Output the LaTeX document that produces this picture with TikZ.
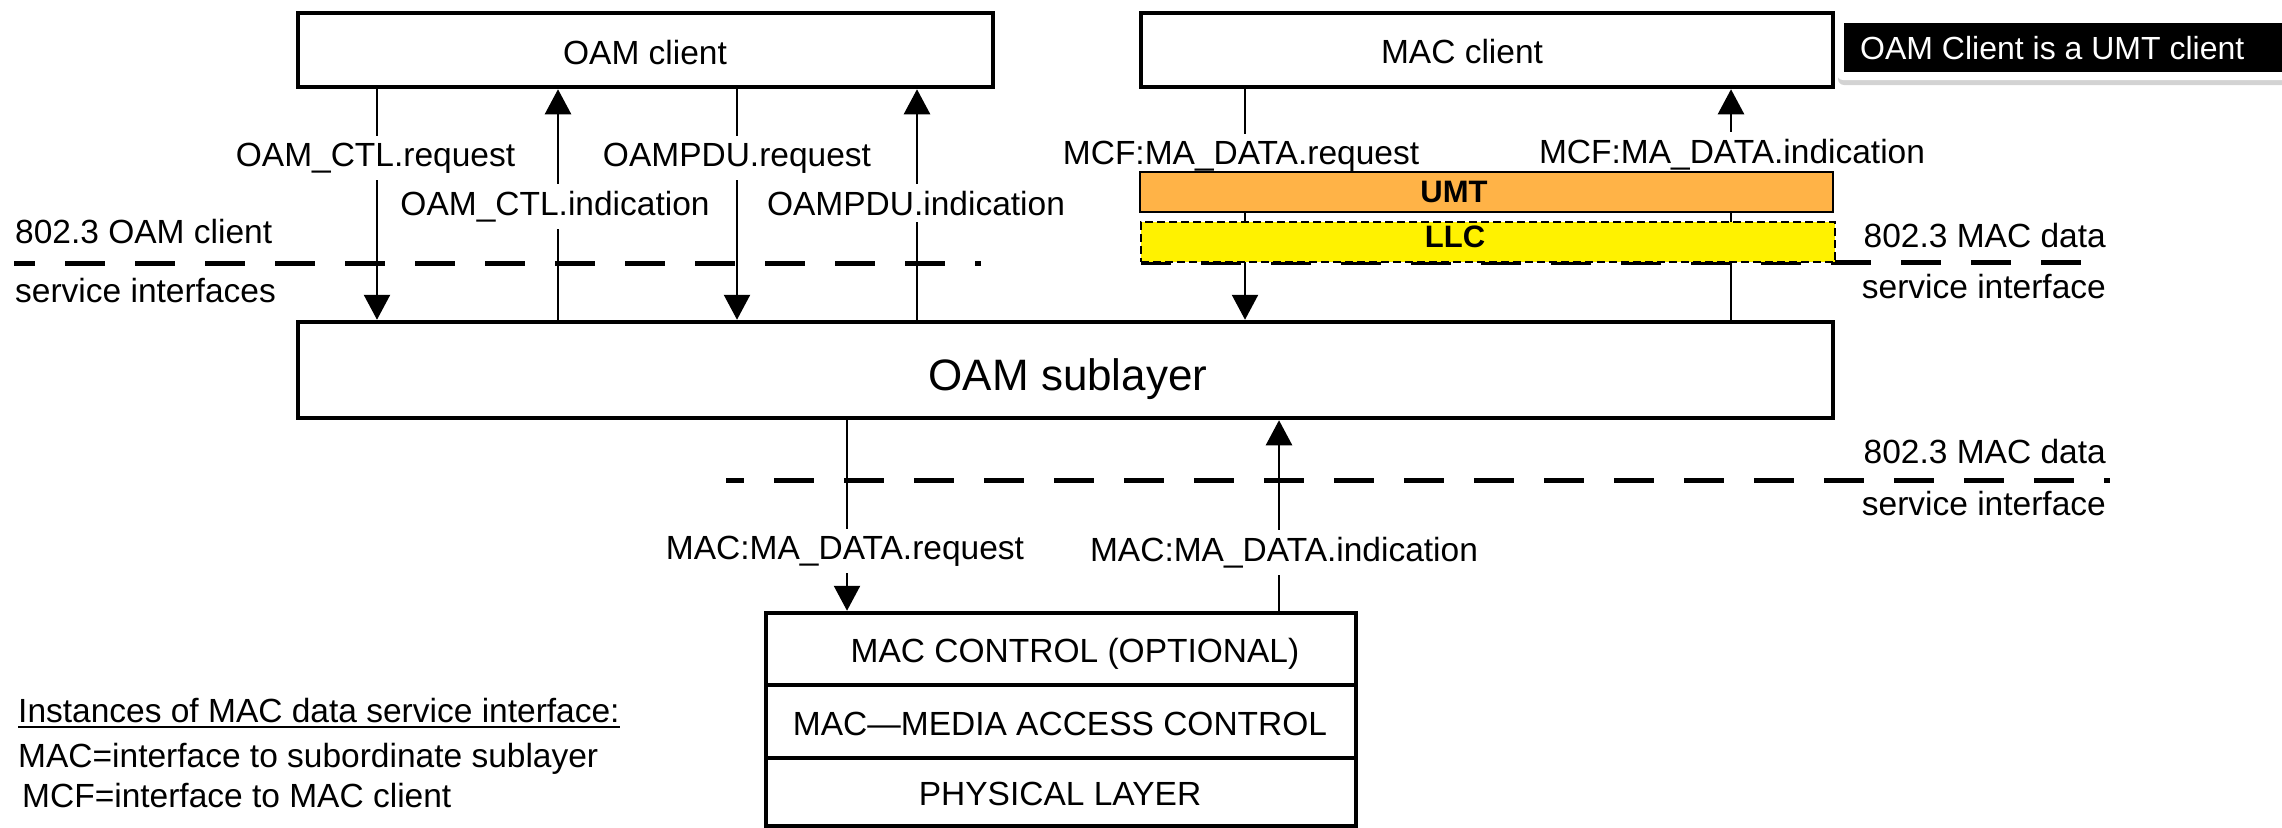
\documentclass[tikz,border=0pt]{standalone}
\usepackage{fontspec}
\setmainfont{Liberation Sans}
\usetikzlibrary{arrows.meta,shadows}
\definecolor{umtor}{RGB}{255,179,71}
\begin{document}
\begin{tikzpicture}[x=1pt,y=-1pt,
  box/.style={draw, line width=4.5pt, inner sep=0pt},
  txt/.style={font=\fontsize{33.5}{40}\selectfont, inner sep=0pt, anchor=base},
  lab/.style={txt, fill=white, inner xsep=4pt, inner ysep=7pt},
  arr/.style={line width=2.5pt, -{Triangle[width=26pt,length=25pt]}},
  ifline/.style={line width=5pt, dash pattern=on 40pt off 30pt},
  bld/.style={font=\fontsize{31}{36}\selectfont\bfseries, inner sep=0pt, anchor=base},
]
\useasboundingbox (0,0) rectangle (2282,827);

% main boxes
\node[box, minimum width=695pt, minimum height=74pt] (oamc) at (645.5,50) {};
\node[txt] (oamct) at (645,64) {OAM client};
\node[box, minimum width=692pt, minimum height=74pt] (macc) at (1487,50) {};
\node[txt] (macct) at (1462,63) {MAC client};
\node[box, minimum width=1535pt, minimum height=96pt] (oams) at (1065.5,370) {};
\node[txt, font=\fontsize{44}{50}\selectfont] (oamst) at (1068,390) {OAM sublayer};

% lower stack
\node[box, minimum width=590pt, minimum height=72pt] (r1) at (1061,649) {};
\node[box, minimum width=590pt, minimum height=73pt] (r2) at (1061,721.5) {};
\node[box, minimum width=590pt, minimum height=68pt] (r3) at (1061,792) {};
\node[txt] (r1t) at (1075,662) {MAC CONTROL (OPTIONAL)};
\node[txt] (r2t) at (1060,735) {MAC—MEDIA ACCESS CONTROL};
\node[txt] (r3t) at (1060,805) {PHYSICAL LAYER};

% interface dashed lines
\coordinate (d1a) at (14,263);
\coordinate (d1b) at (981,263);
\coordinate (d2a) at (1141,262);
\coordinate (d2b) at (2110,262);
\coordinate (d3a) at (726,480);
\coordinate (d3b) at (2110,480);
\draw[ifline, dash phase=19pt] (d1a) -- (d1b);
\draw[ifline, dash phase=10pt] (d2a) -- (d2b);
\draw[ifline, dash phase=22pt] (d3a) -- (d3b);

% connector x positions
\coordinate (xa) at (377,0);
\coordinate (xb) at (558,0);
\coordinate (xc) at (737,0);
\coordinate (xd) at (917,0);
\coordinate (xe) at (1245,0);
\coordinate (xf) at (1731,0);
\coordinate (xg) at (847,0);
\coordinate (xh) at (1279,0);

\draw[arr] (oamc.south -| xa) -- (oams.north -| xa);
\draw[arr] (oams.north -| xb) -- (oamc.south -| xb);
\draw[arr] (oamc.south -| xc) -- (oams.north -| xc);
\draw[arr] (oams.north -| xd) -- (oamc.south -| xd);
\draw[arr] (macc.south -| xe) -- (oams.north -| xe);
\draw[arr] (oams.north -| xf) -- (macc.south -| xf);
\draw[arr] (oams.south -| xg) -- (r1.north -| xg);
\draw[arr] (r1.north -| xh) -- (oams.south -| xh);

% connector labels
\node[lab] (la) at (375.5,166) {OAM\_CTL.request};
\node[lab] (lb) at (555,215) {OAM\_CTL.indication};
\node[lab] (lc) at (737,166) {OAMPDU.request};
\node[lab] (ld) at (916,215) {OAMPDU.indication};
\node[lab] (le) at (1241,164) {MCF:MA\_DATA.request};
\node[lab] (lf) at (1732,163) {MCF:MA\_DATA.indication};
\node[lab] (lg) at (845,559) {MAC:MA\_DATA.request};
\node[lab] (lh) at (1284,561) {MAC:MA\_DATA.indication};

% UMT and LLC
\node[draw, line width=2pt, fill=umtor, minimum width=693pt, minimum height=40pt, inner sep=0pt] (umt) at (1486.5,192) {};
\node[bld] (umtt) at (1454,202) {UMT};
\node[draw, line width=2pt, dash pattern=on 8pt off 4pt, fill=yellow, minimum width=694pt, minimum height=40pt, inner sep=0pt] (llc) at (1488,242) {};
\node[bld] (llct) at (1455,247) {LLC};

% side labels
\node[txt, anchor=base west] (l1a) at (15,243) {802.3 OAM client};
\node[txt, anchor=base west] (l1b) at (15,302) {service interfaces};
\node[txt, anchor=base east] (r1a) at (2106,247) {802.3 MAC data};
\node[txt, anchor=base east] (r1b) at (2106,298) {service interface};
\node[txt, anchor=base east] (r2a) at (2106,463) {802.3 MAC data};
\node[txt, anchor=base east] (r2b) at (2106,515) {service interface};

% legend
\node[txt, anchor=base west] (g1) at (18,722) {Instances of MAC data service interface:};
\draw[line width=2pt] ([yshift=-5pt]g1.base west) -- ([yshift=-5pt]g1.base east);
\node[txt, anchor=base west] (g2) at (18,767) {MAC=interface to subordinate sublayer};
\node[txt, anchor=base west] (g3) at (22,807) {MCF=interface to MAC client};

% callout
\node[fill=white, rounded corners=6pt, drop shadow={shadow xshift=1pt, shadow yshift=-5pt, opacity=0.35}, minimum width=460pt, minimum height=65pt, inner sep=0pt] (cw) at (2067,47.5) {};
\node[fill=black, minimum width=450pt, minimum height=49pt, inner sep=0pt] (cb) at (2069,47.5) {};
\node[anchor=base west, text=white, font=\fontsize{32}{38}\selectfont, inner sep=0pt] (ct) at (1860,59) {OAM Client is a UMT client};
\end{tikzpicture}
\end{document}
